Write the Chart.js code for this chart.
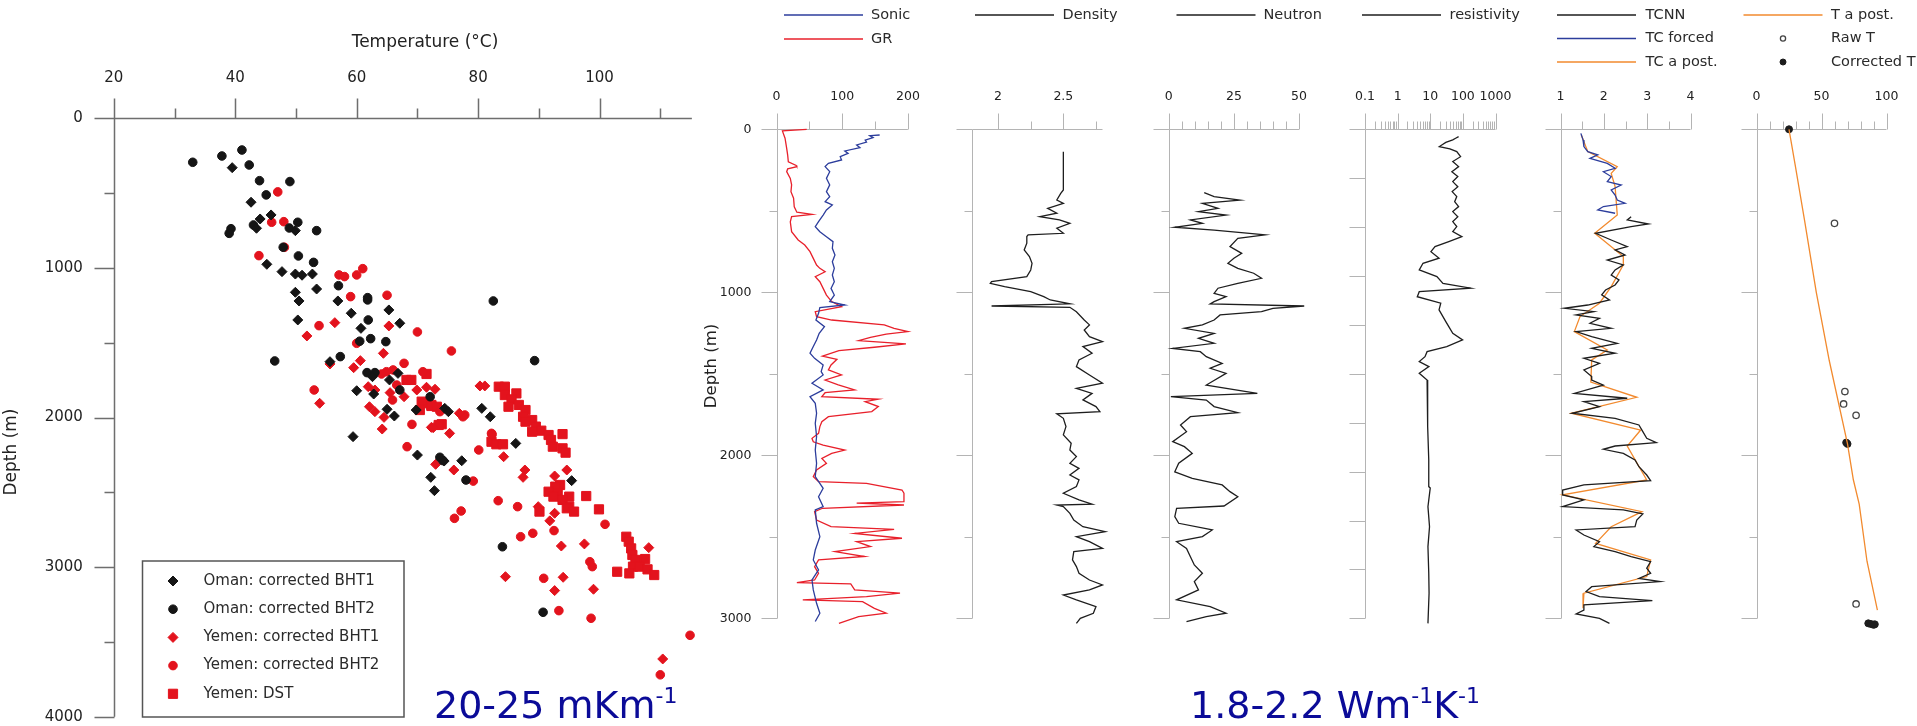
<!DOCTYPE html>
<html>
<head>
<meta charset="utf-8">
<script src="https://cdn.jsdelivr.net/npm/chart.js@4.4.1/dist/chart.umd.min.js"></script>
<style>
  html, body { margin: 0; padding: 0; background: #fff; }
  #page { position: relative; width: 1917px; height: 726px; overflow: hidden; }
  #page canvas { position: absolute; left: 0; top: 0; }
  .note { position: absolute; font-family: "DejaVu Sans", sans-serif; font-size: 38px; line-height: 38px; color: #0b0b98; white-space: nowrap; }
  .note .sup { position: relative; top: -15px; font-size: 22px; }
</style>
</head>
<body>
<div id="page">
  <canvas id="tempDepth" width="1917" height="726"></canvas>
  <canvas id="logSonic" width="1917" height="726"></canvas>
  <canvas id="logDensity" width="1917" height="726"></canvas>
  <canvas id="logNeutron" width="1917" height="726"></canvas>
  <canvas id="logRes" width="1917" height="726"></canvas>
  <canvas id="logTC" width="1917" height="726"></canvas>
  <canvas id="logTemp" width="1917" height="726"></canvas>
  <div class="note" style="left:434px; top:686px">20-25 mKm<span class="sup">-1</span></div>
  <div class="note" style="left:1190px; top:686px">1.8-2.2 Wm<span class="sup">-1</span>K<span class="sup">-1</span></div>
</div>
<script>
// ---- temperature vs depth, [°C, m] ----
const omanBHT1 = [[39.5,330],[42.6,561],[45.9,646],[44.1,673],[43.5,735],[49.9,751],[45.2,976],[47.7,1025],[49.9,1041],[51.0,1049],[52.7,1041],[53.4,1141],[49.9,1163],[50.5,1221],[56.9,1221],[65.3,1281],[59.1,1303],[50.3,1348],[67.1,1370],[60.7,1404],[55.6,1627],[66.8,1705],[62.6,1727],[65.4,1749],[60.0,1821],[62.8,1843],[65.0,1945],[66.2,1990],[69.8,1950],[74.5,1939],[75.1,1961],[80.6,1939],[82.0,1995],[59.4,2128],[86.2,2173],[70.0,2251],[74.4,2291],[77.3,2289],[72.2,2400],[95.4,2422],[72.8,2489]];
const omanBHT2 = [[33.0,294],[37.8,252],[41.1,212],[42.3,312],[44.0,417],[49.0,423],[45.1,512],[39.3,738],[39.0,769],[43.0,713],[48.9,733],[50.3,695],[53.4,751],[47.9,862],[50.4,920],[52.9,963],[57.0,1119],[61.8,1199],[61.8,1214],[82.5,1221],[61.9,1348],[62.3,1473],[64.8,1493],[60.5,1490],[57.3,1593],[46.5,1622],[89.3,1620],[61.7,1700],[63.0,1700],[67.1,1816],[72.1,1861],[73.7,2266],[74.2,2288],[78.0,2418],[84.0,2864],[90.7,3302]];
const yemenBHT1 = [[56.4,1366],[65.3,1388],[51.8,1455],[64.4,1571],[60.6,1620],[55.6,1642],[59.5,1667],[80.3,1789],[81.1,1789],[61.9,1794],[71.5,1798],[72.9,1811],[63.0,1816],[69.9,1816],[65.5,1834],[67.8,1861],[53.9,1905],[62.1,1928],[63.0,1961],[76.9,1972],[64.5,1999],[73.4,2050],[72.3,2066],[72.6,2068],[64.2,2077],[75.3,2106],[84.2,2262],[73.0,2313],[76.0,2351],[87.7,2351],[94.6,2351],[92.6,2391],[87.4,2400],[89.9,2596],[92.6,2640],[91.8,2691],[97.5,2845],[93.7,2859],[108.1,2870],[84.5,3064],[94.0,3068],[99.0,3148],[92.6,3157],[110.4,3614]];
const yemenBHT2 = [[47.0,492],[48.0,691],[46.0,695],[48.1,862],[43.9,918],[61.0,1005],[57.1,1047],[60.0,1047],[58.0,1058],[65.0,1183],[59.0,1192],[53.8,1386],[70.0,1428],[60.0,1504],[75.6,1555],[67.8,1638],[66.0,1682],[64.9,1694],[70.9,1694],[64.1,1709],[66.6,1783],[53.0,1816],[65.9,1883],[73.7,1961],[77.8,1983],[77.5,1995],[69.1,2046],[82.2,2106],[82.3,2113],[68.3,2195],[80.1,2217],[79.2,2425],[83.3,2556],[86.5,2596],[77.2,2625],[76.1,2674],[100.9,2714],[92.5,2756],[89.0,2774],[87.0,2797],[98.4,2964],[98.8,2997],[90.8,3075],[93.3,3291],[98.6,3342],[114.9,3456],[110.0,3720]];
const yemenDST = [[71.5,1709],[68.2,1749],[69.0,1749],[70.7,1894],[70.9,1905],[72.3,1916],[72.3,1923],[73.2,1928],[70.4,1950],[74.0,2045],[73.5,2050],[83.4,1794],[84.4,1794],[86.3,1839],[84.4,1850],[85.5,1879],[86.7,1916],[85.0,1928],[87.8,1950],[87.4,1995],[88.9,2017],[87.8,2028],[89.5,2061],[90.4,2088],[88.9,2095],[93.9,2111],[91.6,2117],[92.0,2150],[82.2,2162],[83.0,2179],[84.1,2179],[92.3,2195],[93.9,2206],[94.4,2235],[93.5,2451],[92.7,2462],[91.6,2496],[93.1,2507],[97.8,2525],[92.4,2529],[95.0,2529],[93.9,2551],[95.0,2596],[94.6,2607],[99.9,2614],[95.8,2629],[90.1,2629],[104.4,2797],[104.8,2830],[105.2,2875],[105.4,2919],[107.5,2946],[105.9,2952],[105.5,2997],[106.6,2997],[107.9,3015],[102.9,3031],[104.9,3042],[109.0,3053]];

const tempTicks = [20, 40, 60, 80, 100];
const tempMinor = [30, 50, 70, 90, 110];
const depthTicks = [0, 1000, 2000, 3000, 4000];
const depthMinor = [500, 1500, 2500, 3500];

// ---- well logs, [depth m, value] ----
const sonic = [[35,157],[39,142],[51,147],[66,135],[79,137],[96,122],[113,127],[133,104],[148,109],[168,97],[188,99],[209,79],[229,74],[260,81],[301,76],[341,81],[383,76],[413,81],[444,74],[464,85],[495,76],[526,71],[567,64],[597,59],[628,66],[659,76],[689,86],[730,85],[771,89],[812,85],[853,88],[894,85],[935,88],[976,83],[1017,88],[1057,81],[1078,104],[1094,66],[1129,64],[1170,60],[1211,73],[1252,65],[1293,61],[1333,56],[1374,51],[1405,58],[1446,71],[1487,68],[1507,71],[1558,54],[1599,71],[1640,51],[1681,59],[1742,61],[1804,59],[1885,61],[1968,59],[2049,61],[2131,59],[2203,71],[2254,64],[2315,71],[2335,59],[2417,61],[2499,66],[2581,59],[2642,56],[2703,64],[2765,54],[2826,56],[2908,61],[2969,66],[3020,59]];
const gammaRay = [[0,46],[10,9],[55,13],[117,15.5],[158,17],[199,18],[222,30],[229,31],[243,17],[260,15.5],[301,21],[341,23],[383,22],[423,26],[475,27],[509,31],[522,54],[536,23],[567,21],[628,23],[679,33],[710,43],[751,51],[792,56],[833,61],[853,66],[874,74],[904,59],[935,66],[976,71],[1017,76],[1057,84],[1088,99],[1119,59],[1149,61],[1170,84],[1200,164],[1221,179],[1241,200],[1256,167],[1276,143],[1297,125],[1317,197],[1337,149],[1358,95],[1391,70],[1411,92],[1446,83],[1476,79],[1507,99],[1538,74],[1568,94],[1599,119],[1616,74],[1640,69],[1656,155],[1671,135],[1701,155],[1732,145],[1763,79],[1794,69],[1824,66],[1865,64],[1896,54],[1917,56],[1937,71],[1968,104],[1988,84],[2019,69],[2049,76],[2090,61],[2131,56],[2162,64],[2172,137],[2213,191],[2233,194],[2284,194],[2294,122],[2305,194],[2325,70],[2346,58],[2397,61],[2438,83],[2454,179],[2479,119],[2509,191],[2530,122],[2560,143],[2591,89],[2621,134],[2642,64],[2683,58],[2724,64],[2765,58],[2781,31],[2789,113],[2826,119],[2846,188],[2867,137],[2887,40],[2898,131],[2939,149],[2969,167],[2990,125],[3031,95]];
const density = [[137,2.5],[372,2.5],[393,2.48],[434,2.45],[454,2.5],[485,2.38],[515,2.45],[536,2.32],[556,2.47],[577,2.55],[607,2.45],[638,2.5],[648,2.23],[658,2.22],[699,2.22],[740,2.2],[781,2.24],[822,2.26],[863,2.25],[904,2.22],[934,1.95],[945,1.94],[965,2.05],[996,2.25],[1027,2.35],[1047,2.4],[1071,2.55],[1084,1.95],[1092,2.55],[1119,2.6],[1170,2.66],[1200,2.7],[1231,2.66],[1272,2.7],[1303,2.8],[1333,2.65],[1374,2.72],[1415,2.62],[1456,2.6],[1507,2.7],[1558,2.8],[1589,2.6],[1620,2.72],[1660,2.65],[1701,2.75],[1732,2.78],[1746,2.45],[1773,2.5],[1824,2.52],[1875,2.5],[1926,2.56],[1967,2.55],[2008,2.6],[2049,2.55],[2080,2.62],[2121,2.55],[2151,2.62],[2192,2.6],[2233,2.5],[2274,2.62],[2300,2.72],[2305,2.45],[2315,2.5],[2356,2.55],[2397,2.58],[2438,2.65],[2468,2.82],[2499,2.6],[2530,2.7],[2571,2.8],[2591,2.58],[2642,2.57],[2683,2.6],[2724,2.62],[2765,2.7],[2795,2.8],[2826,2.7],[2857,2.5],[2887,2.6],[2928,2.75],[2969,2.73],[3000,2.63],[3031,2.6]];
const neutron = [[389,13.6],[413,17.4],[434,27.3],[454,12.9],[485,18.9],[505,11.4],[526,22],[556,8.3],[577,12.9],[601,2.3],[618,17.4],[638,31],[648,37],[669,26.5],[720,23.5],[761,28],[791,25],[822,22.7],[853,26.5],[883,32.6],[914,35.6],[945,26.5],[975,18.9],[1006,17.4],[1027,22],[1057,17.4],[1071,15.9],[1084,52],[1098,40],[1119,35.6],[1139,19.7],[1170,17.4],[1200,12.9],[1221,6],[1252,17.4],[1282,11.4],[1313,17.4],[1344,1.5],[1364,12.1],[1395,14.4],[1436,20.5],[1466,15.9],[1497,22],[1569,14.4],[1620,34],[1640,0.8],[1661,14.4],[1701,17.4],[1738,26.5],[1763,8.3],[1814,4.5],[1855,6.8],[1916,1.5],[1947,6],[1988,9],[2049,3.8],[2101,2.3],[2141,9],[2182,20.5],[2223,23.5],[2254,26.5],[2311,21.2],[2325,3],[2376,2.3],[2417,3.8],[2458,16.7],[2499,12.9],[2530,3],[2571,6.8],[2622,8.3],[2673,9.8],[2724,12.9],[2775,9.8],[2826,11.4],[2887,3],[2928,15.9],[2969,22],[2990,14.4],[3020,6.8]];
const resistivity = [[45,74],[55,60],[65,49],[80,30],[106,19],[120,40],[137,65],[168,85],[198,49],[229,74],[260,46],[290,70],[321,49],[352,70],[382,47],[413,65],[444,56],[474,74],[505,49],[536,70],[566,49],[597,65],[628,49],[658,93],[689,37],[720,14],[751,10.5],[791,18.6],[822,6],[863,4.6],[904,16],[945,24.5],[975,174],[996,4.6],[1027,4],[1067,21],[1108,18.6],[1149,24.5],[1180,30],[1211,37],[1252,49],[1292,98],[1333,32],[1364,8],[1395,6.9],[1425,4.6],[1456,9.1],[1497,4.6],[1538,8],[1620,8],[1700,8.5],[1824,8.5],[2029,9],[2192,9],[2200,10],[2315,8.5],[2438,9.5],[2560,8.5],[2724,9],[2846,9.2],[3031,8.5]];
const tcForced = [[25,1.47],[65,1.52],[106,1.54],[137,1.63],[157,1.86],[178,1.68],[209,2.08],[239,2.26],[260,1.99],[290,2.17],[321,2.08],[342,2.4],[372,2.17],[403,2.26],[434,2.31],[454,2.49],[474,1.99],[495,1.86],[515,2.26]];
const tcNN = [[536,2.63],[556,2.54],[581,3.03],[597,2.63],[638,1.81],[679,2.17],[720,2.54],[740,2.26],[771,2.49],[802,2.08],[832,2.45],[863,2.26],[894,2.17],[924,2.35],[955,2.26],[986,2.04],[1016,1.95],[1047,2.13],[1078,1.63],[1098,1.09],[1119,1.77],[1139,1.36],[1160,1.9],[1190,1.68],[1221,2.17],[1241,1.36],[1272,1.72],[1313,2.31],[1344,1.72],[1374,2.26],[1405,1.54],[1436,1.9],[1476,1.54],[1517,1.72],[1538,1.72],[1569,1.99],[1620,1.32],[1650,2.54],[1671,1.54],[1701,1.9],[1742,1.27],[1773,2.26],[1814,2.81],[1855,2.9],[1896,2.99],[1922,3.21],[1943,2.26],[1963,1.99],[1988,2.45],[2029,2.72],[2070,2.81],[2121,2.99],[2156,3.08],[2182,1.54],[2213,1.05],[2243,1.05],[2274,1.54],[2315,1.05],[2335,2.45],[2360,2.9],[2397,2.76],[2438,2.72],[2458,1.36],[2489,1.54],[2530,1.9],[2560,1.77],[2591,2.26],[2622,2.63],[2652,3.08],[2693,2.99],[2724,3.08],[2755,2.81],[2775,3.3],[2806,1.72],[2836,1.59],[2867,1.9],[2892,3.12],[2918,1.54],[2949,1.54],[2973,1.36],[3000,1.9],[3031,2.13]];
const tcPosterior = [[35,1.48],[137,1.63],[229,2.31],[270,2.17],[352,2.26],[526,2.31],[638,1.79],[781,2.45],[832,2.45],[965,2.17],[1067,1.9],[1149,1.45],[1241,1.32],[1354,2.08],[1415,1.72],[1551,1.7],[1644,2.76],[1742,1.25],[1845,2.85],[1943,2.54],[2151,2.99],[2243,1.05],[2346,2.88],[2438,2.17],[2540,1.81],[2642,3.08],[2744,2.99],[2846,1.54],[2938,1.52]];
const tPosterior = [[0,25],[230,30],[560,37],[1000,46],[1420,56],[1930,70],[2150,74.5],[2300,79],[2650,85],[2950,93]];
const rawT = [[577,60],[1609,68],[1685,67],[1755,76.6],[2912,76.6]];
const correctedT = [[0,25],[1922,69],[1930,70],[3031,86],[3035,88],[3040,90],[3037,91]];

const logDepthTicks = [0, 1000, 2000, 3000];
const logDepthMinor = [500, 1500, 2500];
const resDepthTicks = [0, 300, 600, 900, 1200, 1500, 1800, 2100, 2400, 2700, 3000];
const grTicks = [0, 100, 200], grMinor = [50, 150];
const rhoTicks = [2, 2.5], rhoMinor = [2.25, 2.75];
const nphiTicks = [0, 25, 50], nphiMinor = [5, 10, 15, 20, 30, 35, 40, 45];
const resTicks = [0.1, 1, 10, 100, 1000];
const resMinor = [0.2, 0.3, 0.4, 0.5, 0.6, 0.7, 0.8, 0.9, 2, 3, 4, 5, 6, 7, 8, 9, 20, 30, 40, 50, 60, 70, 80, 90, 200, 300, 400, 500, 600, 700, 800, 900];
const tcTicks = [1, 2, 3, 4], tcMinor = [1.5, 2.5, 3.5];
const tTicks = [0, 50, 100], tMinor = [10, 20, 30, 40, 60, 70, 80, 90];

const FONT = '"DejaVu Sans", sans-serif';
const PAGE_W = 1917, PAGE_H = 726;
Chart.defaults.font.family = FONT;
Chart.defaults.color = '#222';
Chart.defaults.animation = false;
Chart.defaults.responsive = false;
Chart.defaults.plugins.legend.display = false;
Chart.defaults.plugins.tooltip.enabled = false;

const asXY = rows => rows.map(([x, y]) => ({x, y}));
const asLog = rows => rows.map(([d, v]) => ({x: v, y: d}));

const trace = (label, rows, color, width = 1.3) => ({
  label, data: asLog(rows), showLine: true, borderColor: color, backgroundColor: color,
  borderWidth: width, pointRadius: 0, pointHoverRadius: 0, tension: 0, clip: false
});
const marks = (label, data, style, fill, stroke, r, bw = 1) => ({
  label, data, pointStyle: style, pointRadius: r, pointHoverRadius: r,
  backgroundColor: fill, borderColor: stroke, borderWidth: bw, clip: false
});

function drawMark(ctx, style, cx, cy, r) {
  ctx.beginPath();
  if (style === 'rectRot') {
    ctx.moveTo(cx - r, cy); ctx.lineTo(cx, cy - r); ctx.lineTo(cx + r, cy); ctx.lineTo(cx, cy + r); ctx.closePath();
  } else if (style === 'rect') {
    const h = r * Math.SQRT1_2;
    ctx.rect(cx - h, cy - h, 2 * h, 2 * h);
  } else {
    ctx.arc(cx, cy, r, 0, Math.PI * 2);
  }
  ctx.fill();
  ctx.stroke();
}

// axis lines with long/short tick marks, titles and the small legends
const axisDecor = {
  id: 'axisDecor',
  beforeDatasetsDraw(chart, args, o) {
    const {ctx} = chart;
    const x = chart.scales.x, y = chart.scales.y;
    const crisp = v => Math.round(v) + 0.5;
    const y0 = crisp(y.getPixelForValue(0));
    const x0 = crisp(x.left);
    ctx.save();
    ctx.strokeStyle = o.color;
    ctx.lineWidth = o.lineWidth;
    ctx.beginPath();
    ctx.moveTo(x0, y0);
    ctx.lineTo(x.getPixelForValue(o.xEnd ?? x.max), y0);
    ctx.moveTo(x0, y0);
    ctx.lineTo(x0, y.getPixelForValue(o.yEnd ?? y.max));
    const tickX = (vals, len) => vals.forEach(v => {
      const p = crisp(x.getPixelForValue(v));
      ctx.moveTo(p, y0 - len); ctx.lineTo(p, y0);
    });
    const tickY = (vals, len) => vals.forEach(v => {
      const p = crisp(y.getPixelForValue(v));
      ctx.moveTo(x0 - len, p); ctx.lineTo(x0, p);
    });
    tickX(o.xMajor, o.major); tickX(o.xMinor || [], o.minor);
    tickY(o.yMajor, o.major); tickY(o.yMinor || [], o.minor);
    ctx.stroke();
    ctx.restore();
  },
  afterDraw(chart, args, o) {
    const {ctx} = chart;
    ctx.save();
    ctx.textBaseline = 'middle';
    for (const t of o.titles || []) {
      ctx.save();
      ctx.fillStyle = '#222';
      ctx.font = `${t.size}px ${FONT}`;
      ctx.textAlign = 'center';
      ctx.translate(t.x, t.y);
      if (t.rotate) ctx.rotate(-Math.PI / 2);
      ctx.fillText(t.text, 0, 0);
      ctx.restore();
    }
    const lg = o.legend;
    if (lg) {
      if (lg.box) {
        ctx.strokeStyle = '#555';
        ctx.lineWidth = 1.5;
        ctx.strokeRect(lg.box.x, lg.box.y, lg.box.w, lg.box.h);
      }
      ctx.font = `${lg.size}px ${FONT}`;
      ctx.textAlign = 'left';
      for (const it of lg.items) {
        const ds = chart.data.datasets[it.dataset];
        ctx.strokeStyle = ds.borderColor;
        ctx.fillStyle = ds.backgroundColor;
        ctx.lineWidth = ds.borderWidth;
        if (ds.showLine) {
          ctx.beginPath();
          ctx.moveTo(it.x, it.y);
          ctx.lineTo(it.x + lg.lineLen, it.y);
          ctx.stroke();
        } else {
          drawMark(ctx, ds.pointStyle, it.x, it.y, it.r ?? ds.pointRadius);
        }
        ctx.fillStyle = '#2a2a2a';
        ctx.fillText(ds.label, it.textX, it.y);
      }
    }
    ctx.restore();
  }
};

const labelTicks = values => scale => { scale.ticks = values.map(value => ({value})); };

function makeChart(canvasId, area, xOpts, yOpts, datasets, decor) {
  return new Chart(document.getElementById(canvasId), {
    type: 'scatter',
    data: {datasets},
    options: {
      layout: {padding: {left: area.left - area.yWidth, right: PAGE_W - area.right, top: 0, bottom: PAGE_H - area.bottom}},
      scales: {
        x: Object.assign({
          position: 'top',
          grid: {display: false, drawTicks: false},
          border: {display: false},
          afterFit: s => { s.height = area.top; s.paddingLeft = 0; s.paddingRight = 0; }
        }, xOpts),
        y: Object.assign({
          type: 'linear', reverse: true, min: 0,
          grid: {display: false, drawTicks: false},
          border: {display: false},
          afterFit: s => { s.width = area.yWidth; s.paddingTop = 0; s.paddingBottom = 0; }
        }, yOpts)
      },
      plugins: {axisDecor: decor}
    },
    plugins: [axisDecor]
  });
}

// ---------- temperature vs depth ----------
const BLACK = '#151515', RED = '#e3131d';
makeChart('tempDepth', {left: 113.8, right: 736.2, top: 118.3, bottom: 716.7, yWidth: 113.8},
  {type: 'linear', min: 20, max: 122.5, afterBuildTicks: labelTicks(tempTicks),
   ticks: {padding: 31, font: {size: 15}, maxRotation: 0, callback: v => String(v)}},
  {max: 4000, afterBuildTicks: labelTicks(depthTicks),
   ticks: {padding: 31, font: {size: 15}, callback: v => String(v)}},
  [
    marks('Oman: corrected BHT1', asXY(omanBHT1), 'rectRot', BLACK, BLACK, 5),
    marks('Oman: corrected BHT2', asXY(omanBHT2), 'circle', BLACK, BLACK, 4.3),
    marks('Yemen: corrected BHT1', asXY(yemenBHT1), 'rectRot', RED, RED, 5),
    marks('Yemen: corrected BHT2', asXY(yemenBHT2), 'circle', RED, RED, 4.3),
    marks('Yemen: DST', asXY(yemenDST), 'rect', RED, RED, 6.5)
  ],
  {
    color: '#6e6e6e', lineWidth: 1.5, major: 20, minor: 10, xEnd: 115.2,
    xMajor: tempTicks, xMinor: tempMinor, yMajor: depthTicks, yMinor: depthMinor,
    titles: [
      {text: 'Temperature (°C)', x: 425, y: 43, size: 17},
      {text: 'Depth (m)', x: 12, y: 452, size: 17, rotate: true}
    ],
    legend: {
      size: 15, box: {x: 142.5, y: 561, w: 261.5, h: 156},
      items: [0, 1, 2, 3, 4].map(i => ({dataset: i, x: 173, y: 581 + i * 28.2, textX: 203.5}))
    }
  });

// ---------- well log panels ----------
// depth axis runs a little past 3000 m so the deepest readings still show
const LOG_TOP = 129.3, LOG_PX_PER_M = 0.163, LOG_MAX = 3060;
const LOG_BOTTOM = LOG_TOP + LOG_MAX * LOG_PX_PER_M;
const GREY = '#b4b4b4';
const logX = (type, min, max, labels) => ({
  type, min, max, afterBuildTicks: labelTicks(labels),
  ticks: {padding: 25, font: {size: 12.5}, maxRotation: 0, autoSkip: false, callback: v => String(v)}
});
const logY = (labels, show) => ({
  max: LOG_MAX, afterBuildTicks: labelTicks(labels),
  ticks: {display: show, padding: 25, font: {size: 12.5}, callback: v => String(v)}
});
const panelDecor = (xMajor, xMinor, yMajor, yMinor, extra) => Object.assign({
  color: GREY, lineWidth: 1, major: 16, minor: 8, yEnd: 3000,
  xMajor, xMinor, yMajor, yMinor
}, extra);

makeChart('logSonic', {left: 776.5, right: 907.9, top: LOG_TOP, bottom: LOG_BOTTOM, yWidth: 70},
  logX('linear', 0, 200, grTicks), logY(logDepthTicks, true),
  [trace('Sonic', sonic, '#2c3d9c'), trace('GR', gammaRay, '#e8202b')],
  panelDecor(grTicks, grMinor, logDepthTicks, logDepthMinor, {
    titles: [{text: 'Depth (m)', x: 712, y: 366, size: 16.5, rotate: true}],
    legend: {size: 14.5, lineLen: 79, items: [
      {dataset: 0, x: 784, y: 15, textX: 871},
      {dataset: 1, x: 784, y: 39, textX: 871}
    ]}
  }));

makeChart('logDensity', {left: 972, right: 1102.5, top: LOG_TOP, bottom: LOG_BOTTOM, yWidth: 20},
  logX('linear', 1.8, 2.8, rhoTicks), logY(logDepthTicks, false),
  [trace('Density', density, '#1e1e1e')],
  panelDecor(rhoTicks, rhoMinor, logDepthTicks, logDepthMinor, {
    legend: {size: 14.5, lineLen: 79, items: [{dataset: 0, x: 975, y: 15, textX: 1062.5}]}
  }));

makeChart('logNeutron', {left: 1168.8, right: 1299, top: LOG_TOP, bottom: LOG_BOTTOM, yWidth: 20},
  logX('linear', 0, 50, nphiTicks), logY(logDepthTicks, false),
  [trace('Neutron', neutron, '#1e1e1e')],
  panelDecor(nphiTicks, nphiMinor, logDepthTicks, logDepthMinor, {
    legend: {size: 14.5, lineLen: 79, items: [{dataset: 0, x: 1176.5, y: 15, textX: 1263.5}]}
  }));

makeChart('logRes', {left: 1365, right: 1495.5, top: LOG_TOP, bottom: LOG_BOTTOM, yWidth: 20},
  logX('logarithmic', 0.1, 1000, resTicks), logY(resDepthTicks, false),
  [trace('resistivity', resistivity, '#1e1e1e')],
  panelDecor(resTicks, resMinor, resDepthTicks, [], {
    legend: {size: 14.5, lineLen: 79, items: [{dataset: 0, x: 1362, y: 15, textX: 1449.5}]}
  }));

makeChart('logTC', {left: 1560.5, right: 1690.5, top: LOG_TOP, bottom: LOG_BOTTOM, yWidth: 20},
  logX('linear', 1, 4, tcTicks), logY(logDepthTicks, false),
  [trace('TCNN', tcNN, '#1e1e1e'), trace('TC forced', tcForced, '#2c3d9c'), trace('TC a post.', tcPosterior, '#f28a2e')],
  panelDecor(tcTicks, tcMinor, logDepthTicks, logDepthMinor, {
    legend: {size: 14.5, lineLen: 79, items: [
      {dataset: 0, x: 1557, y: 15, textX: 1645.5},
      {dataset: 1, x: 1557, y: 38.5, textX: 1645.5},
      {dataset: 2, x: 1557, y: 62, textX: 1645.5}
    ]}
  }));

makeChart('logTemp', {left: 1756.5, right: 1886.5, top: LOG_TOP, bottom: LOG_BOTTOM, yWidth: 20},
  logX('linear', 0, 100, tTicks), logY(logDepthTicks, false),
  [
    trace('T a post.', tPosterior, '#f28a2e'),
    marks('Raw T', asLog(rawT), 'circle', 'rgba(255,255,255,0)', '#444', 3.2, 1.3),
    marks('Corrected T', asLog(correctedT), 'circle', '#1c1c1c', '#1c1c1c', 3.5)
  ],
  panelDecor(tTicks, tMinor, logDepthTicks, logDepthMinor, {
    legend: {size: 14.5, lineLen: 79, items: [
      {dataset: 0, x: 1743.5, y: 15, textX: 1831},
      {dataset: 1, x: 1783, y: 38.5, textX: 1831, r: 2.6},
      {dataset: 2, x: 1783, y: 62, textX: 1831, r: 3}
    ]}
  }));
</script>
</body>
</html>
